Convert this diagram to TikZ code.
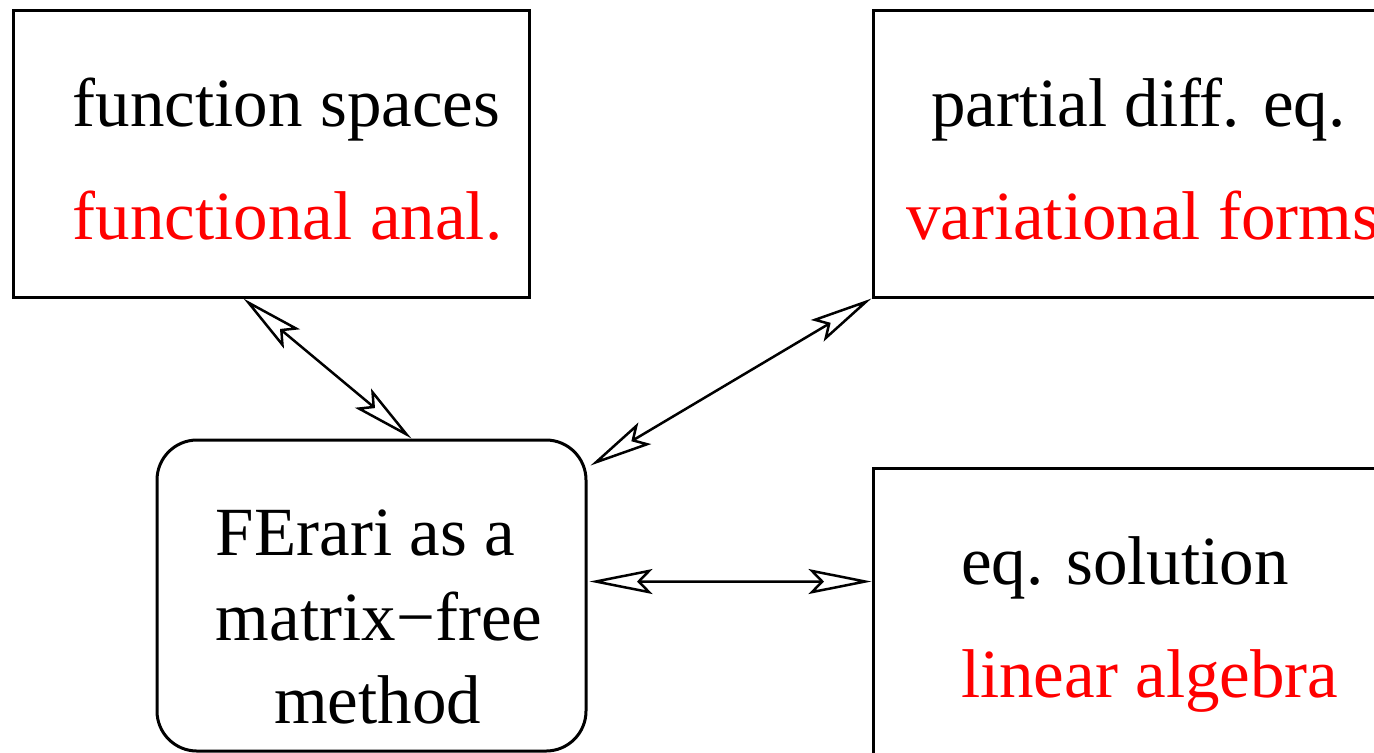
\documentclass[tikz,border=0pt]{standalone}
\usepackage{fontspec}
\setmainfont{Liberation Serif}
\usetikzlibrary{arrows.meta,fit,calc}
\begin{document}
\begin{tikzpicture}[
    x=0.2pt, y=-0.2pt,
    box/.style={draw, line width=0.6pt, inner sep=0pt},
    txt/.style={inner sep=0pt, anchor=base west, font=\fontsize{13.8}{16}\selectfont},
    link/.style={line width=0.5pt, {Stealth[open, length=12.6pt, width=5pt, inset=2.4pt]}-{Stealth[open, length=12.6pt, width=5pt, inset=2.4pt]}}
  ]
  \useasboundingbox (0,0) rectangle (1374,752);
  \clip (0,0) rectangle (1374,752);
  \node[box, fit={(13,10) (529,297)}] (funcbox) {};
  \node[box, fit={(873,10) (1400,297)}] (pdebox) {};
  \node[box, rounded corners=8pt, fit={(157,440) (586,751)}] (ferari) {};
  \node[box, fit={(873,468) (1400,800)}] (solbox) {};

  \node[txt] (func) at (72,126) {function spaces};
  \node[txt, red] (fana) at (72,239) {functional anal.};
  \node[txt] (pde) at (930,126) {partial diff. eq.};
  \node[txt, red] (vari) at (905,239) {variational forms};
  \node[txt] (fer1) at (215,555) {FErari as a};
  \node[txt] (fer2) at (215,640) {matrix−free};
  \node[txt] (fer3) at (273,723) {method};
  \node[txt] (sol) at (960,584) {eq. solution};
  \node[txt, red] (lina) at (960,697) {linear algebra};

  \draw[link] ($(funcbox.south west)+(232,0)$) -- ($(ferari.north west)+(256,0)$);
  \draw[link] ($(ferari.north east)+(3,27)$) -- (pdebox.south west);
  \draw[link] ($(ferari.north east)+(2,143)$) -- ($(solbox.north west)+(0,115)$);
\end{tikzpicture}
\end{document}
